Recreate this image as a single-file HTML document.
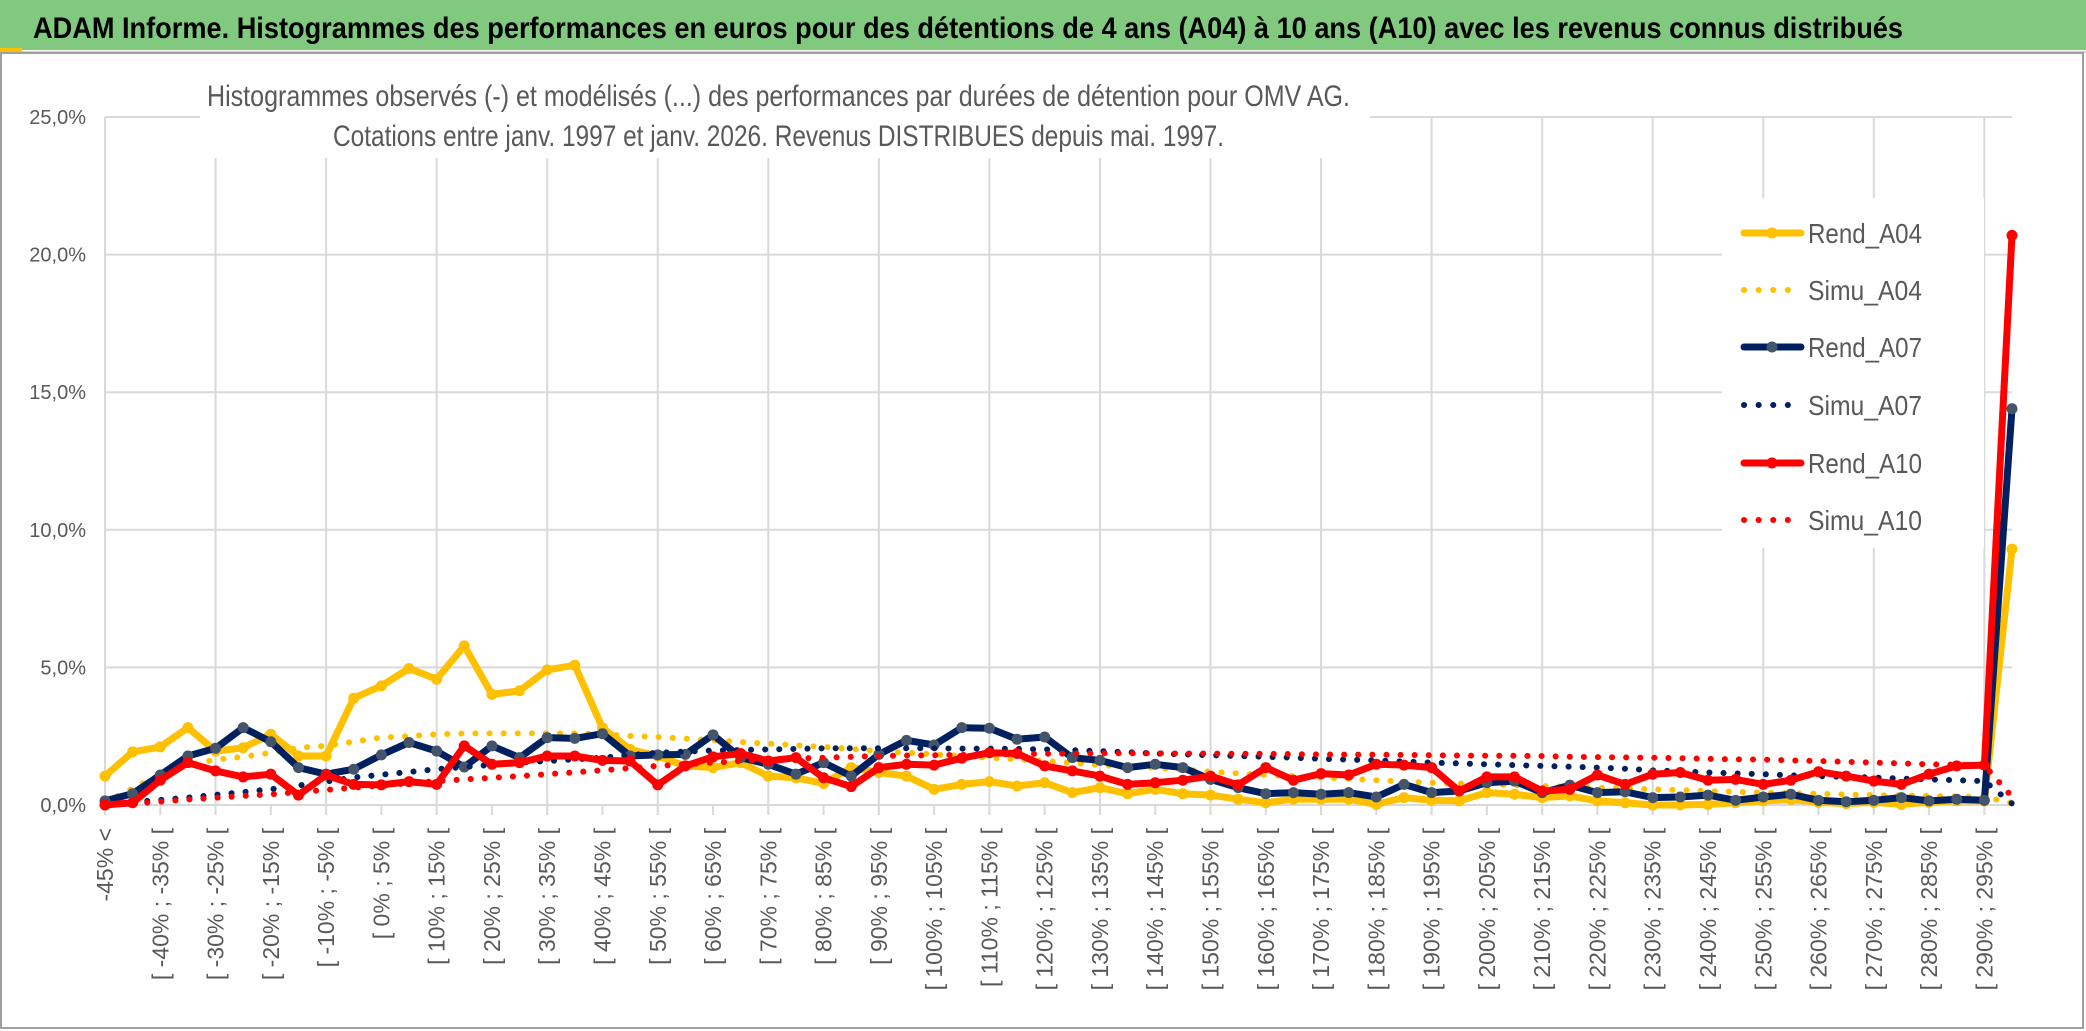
<!DOCTYPE html>
<html><head><meta charset="utf-8"><style>
html,body{margin:0;padding:0;background:#fff;}
svg{display:block;font-family:"Liberation Sans",sans-serif;}
</style></head><body>
<svg id="chart" width="2086" height="1031" viewBox="0 0 2086 1031">
<rect x="0" y="0" width="2086" height="1031" fill="#fff"/>
<rect x="0" y="0" width="2086" height="50" fill="#80c97f"/>
<line x1="0" y1="52" x2="2086" y2="52" stroke="#d0d0d0" stroke-width="2"/>
<rect x="0" y="48" width="22" height="4" fill="#ffc000"/>
<text x="33" y="38" font-size="30" font-weight="bold" fill="#000" textLength="1870" lengthAdjust="spacingAndGlyphs">ADAM Informe. Histogrammes des performances en euros pour des détentions de 4 ans (A04) à 10 ans (A10) avec les revenus connus distribués</text>
<rect x="1" y="53" width="2082" height="975" fill="none" stroke="#a0a0a0" stroke-width="2"/>
<g id="grid"></g>
<g id="yaxis"></g>
<g id="xaxis"></g>
<g id="series"></g>
<rect x="200" y="62" width="1170" height="96" fill="#fff"/>
<text x="207" y="106" font-size="30" fill="#595959" textLength="1143" lengthAdjust="spacingAndGlyphs">Histogrammes observés (-) et modélisés (...) des performances par durées de détention pour OMV AG.</text>
<text x="333" y="146" font-size="30" fill="#595959" textLength="891" lengthAdjust="spacingAndGlyphs">Cotations entre janv. 1997 et janv. 2026. Revenus DISTRIBUES depuis mai. 1997.</text>
<g id="legend"></g>
</svg>
<script>
const categories = (function(){const c=["-45% <"];for(let i=1;i<70;i++){const lo=-45+5*(i-1);c.push("[ "+lo+"% ; "+(lo+5)+"% [");}return c;})();
const yTicks = [0,5,10,15,20,25];
const yTickLabels = ["0,0%","5,0%","10,0%","15,0%","20,0%","25,0%"];
const rendA04 = [1.05,1.93,2.11,2.81,1.96,2.08,2.57,1.78,1.78,3.88,4.33,4.96,4.57,5.78,4.02,4.15,4.91,5.08,
2.8,2.02,1.78,1.42,1.36,1.54,1.05,0.99,0.78,1.36,1.18,1.05,0.57,0.75,0.85,0.69,0.81,0.45,0.63,
0.41,0.57,0.41,0.36,0.21,0.08,0.21,0.21,0.21,0.02,0.27,0.17,0.15,0.45,0.39,0.27,0.33,0.15,0.08,
0,0,0.02,0.08,0.15,0.2,0.1,0.05,0.1,0.02,0.1,0.15,0.15,9.3];
const simuA04 = [0.1,0.6,1.1,1.45,1.65,1.75,1.9,2.08,2.15,2.3,2.45,2.5,2.57,2.6,2.6,2.6,2.6,2.6,2.57,2.51,2.47,2.41,2.35,2.29,2.23,2.17,2.11,2.04,1.96,1.9,1.84,1.78,1.72,1.66,1.6,1.53,1.45,1.4,1.36,1.28,1.21,1.15,1.09,1.05,1.0,0.95,0.9,0.85,0.81,0.78,0.75,0.72,0.69,0.66,0.63,0.6,0.57,0.54,0.51,0.48,0.45,0.43,0.41,0.38,0.36,0.35,0.33,0.31,0.29,0.08];
const rendA07 = [0.15,0.41,1.09,1.78,2.06,2.81,2.30,1.36,1.12,1.30,1.82,2.27,1.96,1.38,2.15,1.72,2.45,2.42,2.59,
1.78,1.82,1.84,2.55,1.72,1.48,1.12,1.54,1.05,1.84,2.35,2.18,2.81,2.79,2.39,2.47,1.72,1.62,
1.36,1.48,1.36,0.93,0.63,0.41,0.45,0.39,0.45,0.29,0.75,0.45,0.51,0.81,0.87,0.45,0.72,0.45,0.48,
0.27,0.29,0.36,0.17,0.29,0.39,0.17,0.12,0.17,0.27,0.15,0.21,0.17,14.4];
const simuA07 = [0.05,0.1,0.18,0.27,0.37,0.47,0.57,0.71,0.85,1.0,1.1,1.2,1.3,1.38,1.46,1.54,1.6,1.66,1.72,1.81,1.9,1.94,1.98,2.0,2.02,2.04,2.06,2.06,2.06,2.06,2.06,2.05,2.05,2.04,2.02,1.99,1.96,1.92,1.87,1.84,1.81,1.78,1.75,1.72,1.68,1.65,1.62,1.58,1.54,1.51,1.48,1.45,1.42,1.39,1.36,1.32,1.26,1.22,1.18,1.15,1.12,1.08,1.05,1.02,1.0,0.96,0.93,0.9,0.87,0.05];
const rendA10 = [0,0.08,0.90,1.54,1.24,1.02,1.12,0.36,1.09,0.75,0.73,0.85,0.75,2.15,1.48,1.54,1.78,1.78,1.62,
1.6,0.73,1.42,1.75,1.87,1.6,1.72,0.99,0.67,1.36,1.48,1.45,1.7,1.9,1.87,1.42,1.24,1.05,
0.75,0.81,0.9,1.05,0.73,1.36,0.9,1.14,1.09,1.48,1.45,1.36,0.51,1.02,1.02,0.51,0.57,1.09,0.75,
1.12,1.18,0.9,0.93,0.75,0.9,1.21,1.05,0.87,0.75,1.12,1.42,1.45,20.7];
const simuA10 = [0,0.05,0.12,0.2,0.26,0.33,0.39,0.47,0.55,0.63,0.71,0.79,0.87,0.93,0.99,1.05,1.12,1.19,1.26,1.34,1.42,1.48,1.54,1.6,1.66,1.69,1.72,1.75,1.78,1.8,1.81,1.82,1.84,1.85,1.86,1.87,1.88,1.88,1.88,1.87,1.87,1.86,1.86,1.85,1.84,1.83,1.83,1.82,1.81,1.8,1.79,1.79,1.78,1.75,1.74,1.73,1.72,1.7,1.68,1.66,1.65,1.62,1.6,1.57,1.54,1.51,1.48,1.46,1.44,0.3];
const seriesNames = ["Rend_A04","Simu_A04","Rend_A07","Simu_A07","Rend_A10","Simu_A10"];

const NS="http://www.w3.org/2000/svg";
const X0=105, X1=2012, Y0=805, Y25=117;
function xPos(i){return X0+(X1-X0)*i/(categories.length-1);}
function yPos(v){return Y0-(Y0-Y25)*v/25;}
function mk(tag,attrs,parent){const e=document.createElementNS(NS,tag);for(const k in attrs)e.setAttribute(k,attrs[k]);parent.appendChild(e);return e;}
const grid=document.getElementById('grid'), yax=document.getElementById('yaxis'), xax=document.getElementById('xaxis'), ser=document.getElementById('series'), leg=document.getElementById('legend');

yTicks.forEach((t,k)=>{
  const l=mk('line',{x1:X0,x2:X1,y1:yPos(t),y2:yPos(t),stroke:'#d9d9d9','stroke-width':2},grid);
  
  
  const tx=mk('text',{x:86,y:yPos(t)+7,'text-anchor':'end','font-size':20,fill:'#595959'},yax);
  tx.textContent=yTickLabels[k];
  
  
});
for(let i=0;i<categories.length;i+=4){
  const l=mk('line',{x1:xPos(i),x2:xPos(i),y1:Y25,y2:Y0+10,stroke:'#d9d9d9','stroke-width':2},grid);
  
  
}
for(let i=0;i<categories.length;i+=2){
  const x=xPos(i);
  const tk=mk('line',{x1:x,x2:x,y1:Y0,y2:Y0+10,stroke:'#d9d9d9','stroke-width':2},xax);
  
  
  const tx=mk('text',{transform:'translate('+(x+8)+',828) rotate(-90)','text-anchor':'end','font-size':23,fill:'#595959'},xax);
  tx.textContent=categories[i];
  
  
}
const allSeries=[rendA04,simuA04,rendA07,simuA07,rendA10,simuA10];
const colors=['#ffc000','#ffc000','#002060','#002060','#ff0000','#ff0000'];
const markerFill=['#ffc000',null,'#44546a',null,'#ff0000',null];
allSeries.forEach((arr,s)=>{
  const g=mk('g',{},ser);
  
  
  const pts=arr.map((v,i)=>xPos(i).toFixed(1)+','+yPos(v).toFixed(1)).join(' ');
  const dotted=s%2===1;
  const pl=mk('polyline',{points:pts,fill:'none',stroke:colors[s],'stroke-width':dotted?6:7,'stroke-linejoin':'round','stroke-linecap':'round'},g);
  if(dotted){pl.setAttribute('stroke-dasharray','0.1 14');}
  
  
  if(!dotted){
    arr.forEach((v,i)=>{
      const c=mk('circle',{cx:xPos(i),cy:yPos(v),r:5.5,fill:markerFill[s]},g);
      
      
    });
  }
});
mk('rect',{x:1722,y:198,width:262,height:350,fill:'#fff'},leg);
const legY=[233,290,347,405,463,520];
seriesNames.forEach((n,s)=>{
  const g=mk('g',{},leg);
  
  
  const y=legY[s];
  const dotted=s%2===1;
  const l=mk('line',{x1:1744,x2:1801,y1:y,y2:y,stroke:colors[s],'stroke-width':dotted?6:7,'stroke-linecap':'round'},g);
  if(dotted)l.setAttribute('stroke-dasharray','0.1 14.5');
  if(!dotted)mk('circle',{cx:1772,cy:y,r:5.5,fill:markerFill[s]},g);
  const t=mk('text',{x:1808,y:y+10,'font-size':28,fill:'#595959',textLength:114,lengthAdjust:'spacingAndGlyphs'},g);
  t.textContent=n;
});
</script>
</body></html>
